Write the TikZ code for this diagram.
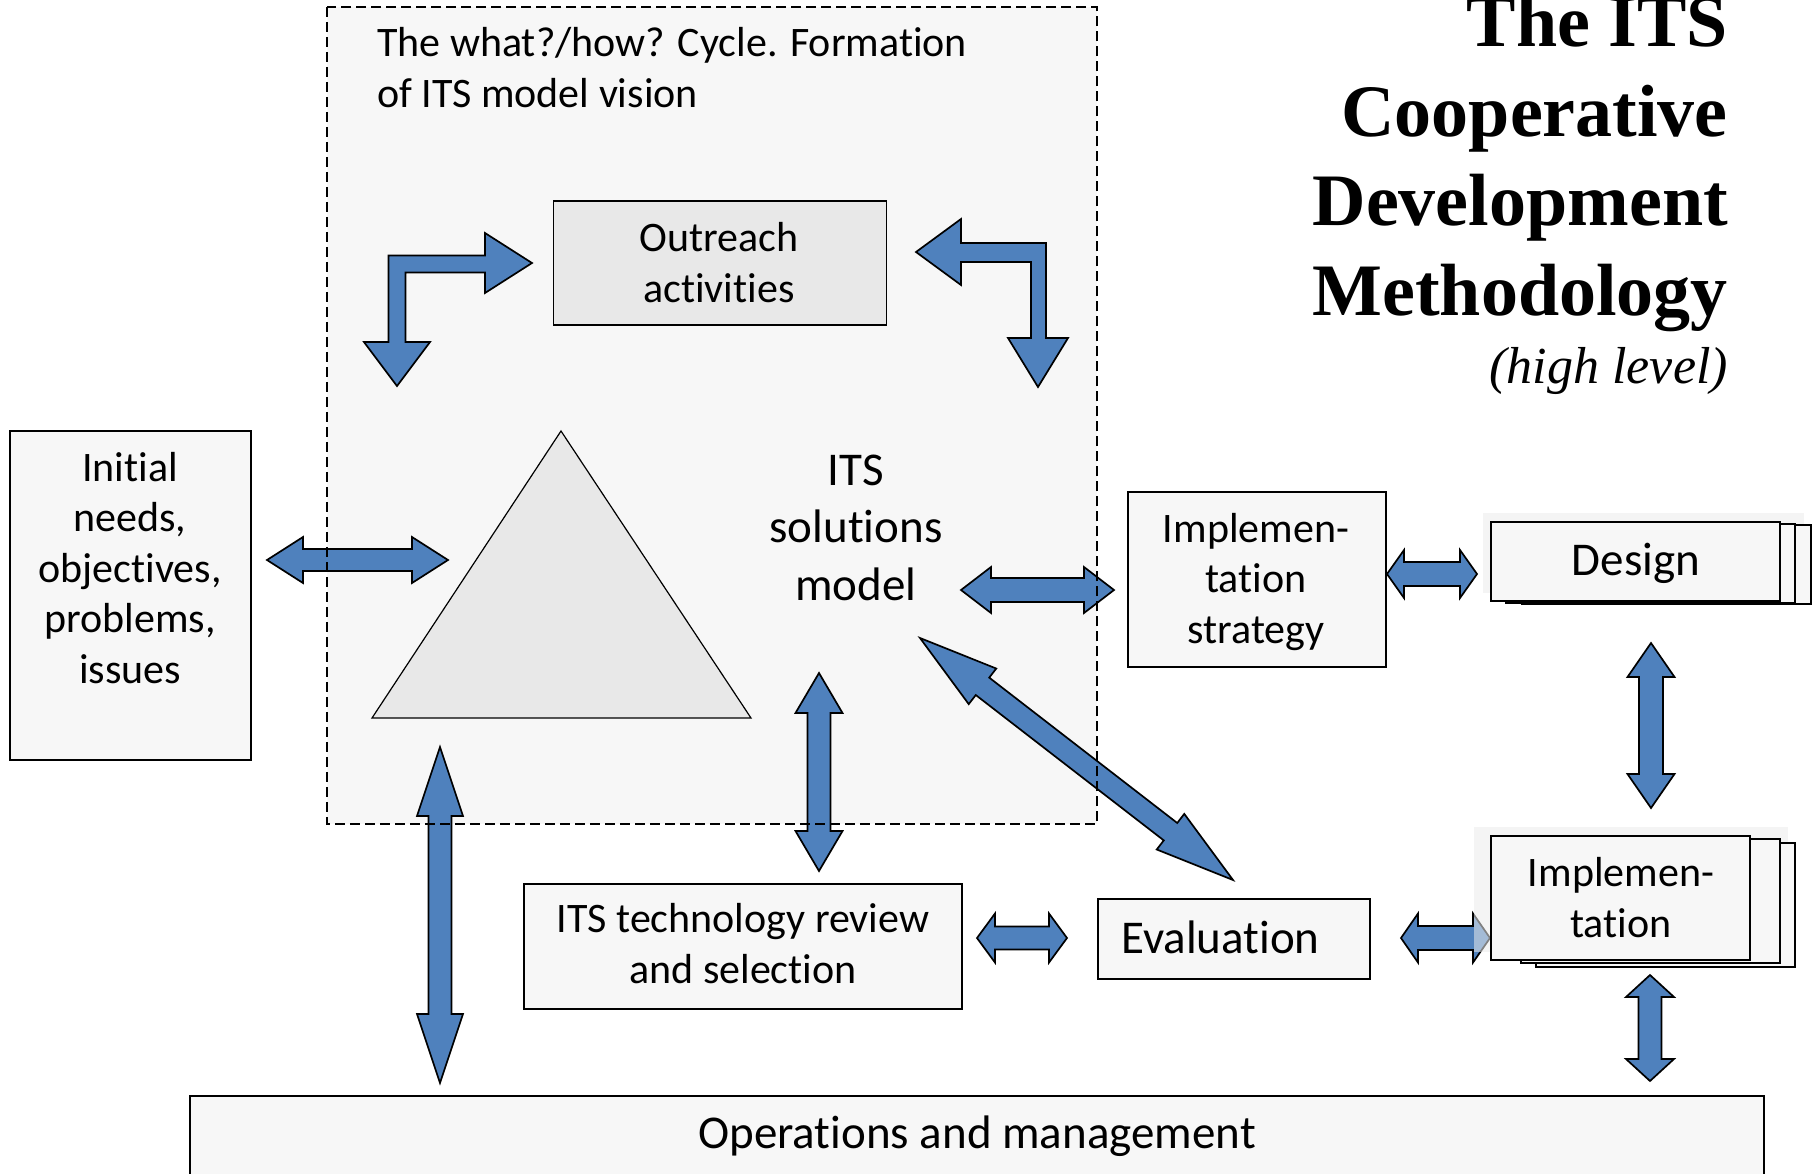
\documentclass[tikz,border=0pt]{standalone}
\usepackage{fontspec}
\setmainfont{Carlito}[Ligatures=NoCommon]
\newfontfamily\titlefont{Liberation Serif}
\usetikzlibrary{calc}

\definecolor{arrowblue}{HTML}{4F81BD}
\definecolor{boxgray}{HTML}{F7F7F7}
\definecolor{shadegray}{HTML}{E8E8E8}

\tikzset{
  box/.style={draw, line width=1.8pt, fill=boxgray, inner sep=0pt},
  glow/.style={fill=black!8, fill opacity=0.55},
  txt/.style={font=\fontsize{42}{50.5}\selectfont, align=center, inner sep=0pt},
  bigtxt/.style={font=\fontsize{47}{57.5}\selectfont, align=center, inner sep=0pt},
  blockarrow/.style={fill=arrowblue, draw=black, line width=1.7pt, line join=miter},
}

% fat double arrow: from, to, head length, head half width, shaft half width
\newcommand\dblarrow[5]{%
  \coordinate (fa1) at ($(#1)!#3!(#2)$);
  \coordinate (fa2) at ($(#2)!#3!(#1)$);
  \draw[blockarrow] (#1)
    -- ($(fa1)!#4!90:(#2)$) -- ($(fa1)!#5!90:(#2)$)
    -- ($(fa2)!#5!-90:(#1)$) -- ($(fa2)!#4!-90:(#1)$)
    -- (#2)
    -- ($(fa2)!#4!90:(#1)$) -- ($(fa2)!#5!90:(#1)$)
    -- ($(fa1)!#5!-90:(#2)$) -- ($(fa1)!#4!-90:(#2)$)
    -- cycle;}

\begin{document}
\begin{tikzpicture}[x=1pt, y=-1pt]
  \clip (0,0) rectangle (1818,1173);
  \fill[white] (0,0) rectangle (1818,1173);

  % title (multi-line nodes sit on their last baseline)
  \node[font=\titlefont\bfseries\fontsize{74}{89.5}\selectfont, align=right,
        anchor=base east, inner sep=0pt] (title) at (1728,315)
        {The ITS\\Cooperative\\Development\\Methodology};
  \node[font=\titlefont\itshape\fontsize{52}{60}\selectfont,
        anchor=base east, inner sep=0pt] (subtitle) at (1728,383) {(high level)};

  % the what?/how? cycle
  \fill[boxgray] (327,7) rectangle (1097,824);
  \node[txt, align=left, anchor=base west] (cycle) at (377,107)
        {The what?/how? Cycle. Formation\\of ITS model vision};
  \node[box, fill=shadegray, minimum width=333pt, minimum height=124pt] (outreach) at (720,263) {};
  \node[txt, anchor=base] (outreachlbl) at (719,302) {Outreach\\activities};
  \draw[line width=1.2pt, fill=shadegray] (561,431) -- (372,718) -- (751,718) -- cycle;
  \node[bigtxt, anchor=base] (model) at (856,600) {ITS\\solutions\\model};

  % boxes
  \node[box, minimum width=241pt, minimum height=329pt] (init) at (130.5,595.5) {};
  \node[txt, anchor=base] (initlbl) at (130,683)
        {Initial\\needs,\\objectives,\\problems,\\issues};

  \node[box, minimum width=258pt, minimum height=175pt] (strategy) at (1257,579.5) {};
  \node[txt, anchor=base] (strategylbl) at (1256,643) {Implemen-\\tation\\strategy};

  \fill[glow] (1483,513) rectangle (1804,593);
  \foreach \dx/\dy in {31/3,15/2}
    \draw[box] (1491+\dx,522+\dy) rectangle (1780+\dx,601+\dy);
  \node[box, minimum width=289pt, minimum height=79pt] (design) at (1635.5,561.5) {};
  \node[bigtxt, anchor=base] (designlbl) at (1636,575) {Design};

  \node[box, minimum width=272pt, minimum height=80pt] (eval) at (1234,939) {};
  \node[bigtxt, anchor=base west] (evallbl) at (1121,953) {Evaluation};

  \node[box, minimum width=438pt, minimum height=125pt] (tech) at (743,946.5) {};
  \node[txt, anchor=base] (techlbl) at (743,983) {ITS technology review\\and selection};

  \node[box, minimum width=1574pt, minimum height=110pt] (ops) at (977,1151) {};
  \node[bigtxt, anchor=base] (opslbl) at (977,1148) {Operations and management};

  % arrow ends
  \coordinate (init-e) at (267,560);   \coordinate (tri-w) at (448,560);
  \coordinate (model-e) at (961,590);  \coordinate (strat-w) at (1114,590);
  \coordinate (strat-e) at (1387,574); \coordinate (design-w) at (1477,574);
  \coordinate (design-s) at (1651,643);\coordinate (impl-n) at (1651,808);
  \coordinate (eval-e) at (1401,938);  \coordinate (impl-w) at (1490,938);
  \coordinate (tech-e) at (977,938);   \coordinate (eval-w) at (1067,938);
  \coordinate (model-s) at (819,673);  \coordinate (tech-n) at (819,871);
  \coordinate (tri-s) at (440,747);    \coordinate (ops-n) at (440,1083);
  \coordinate (impl-s) at (1650,975);  \coordinate (ops-ne) at (1650,1081);
  \coordinate (model-se) at (920,638); \coordinate (eval-n) at (1233,880);

  \dblarrow{init-e}{tri-w}{36pt}{23pt}{11pt}
  \dblarrow{model-e}{strat-w}{30pt}{23pt}{12pt}
  \dblarrow{strat-e}{design-w}{17pt}{24pt}{12pt}
  \dblarrow{design-s}{impl-n}{34pt}{23.5pt}{12pt}
  \dblarrow{eval-e}{impl-w}{17pt}{24.5pt}{12pt}
  \dblarrow{tech-e}{eval-w}{18pt}{24.5pt}{11.5pt}
  \dblarrow{model-s}{tech-n}{40pt}{23.5pt}{11.5pt}
  \dblarrow{tri-s}{ops-n}{69pt}{23pt}{11.5pt}
  \dblarrow{impl-s}{ops-ne}{22pt}{24pt}{11.5pt}
  \dblarrow{model-se}{eval-n}{79pt}{22.5pt}{11pt}

  % bent arrows around the outreach box
  \coordinate (out-w) at (532,263);
  \draw[blockarrow] (out-w) -- ++(-47,-30) -- ++(0,22.5) -- ++(-96.5,0) -- ++(0,86.5)
    -- ++(-24.5,0) -- ++(33,44) -- ++(33,-44) -- ++(-24.5,0) -- ++(0,-69.5)
    -- ++(79.5,0) -- ++(0,20.5) -- cycle;
  \coordinate (out-e) at (916,252);
  \draw[blockarrow] (out-e) -- ++(45,-33) -- ++(0,24) -- ++(85,0) -- ++(0,95)
    -- ++(22,0) -- ++(-30,49) -- ++(-30,-49) -- ++(23,0) -- ++(0,-76)
    -- ++(-70,0) -- ++(0,23) -- cycle;

  % implementation stack, its glow lies over the arrow head
  \fill[glow] (1474,827) rectangle (1788,952);
  \foreach \dx/\dy in {45/7,30/3}
    \draw[box] (1491+\dx,836+\dy) rectangle (1750+\dx,960+\dy);
  \node[box, minimum width=259pt, minimum height=124pt] (impl) at (1620.5,898) {};
  \node[txt, anchor=base] (impllbl) at (1621,937) {Implemen-\\tation};

  % dashed frame on top
  \draw[line width=1.5pt, dash pattern=on 10pt off 5pt] (327,7) rectangle (1097,824);
\end{tikzpicture}
\end{document}
